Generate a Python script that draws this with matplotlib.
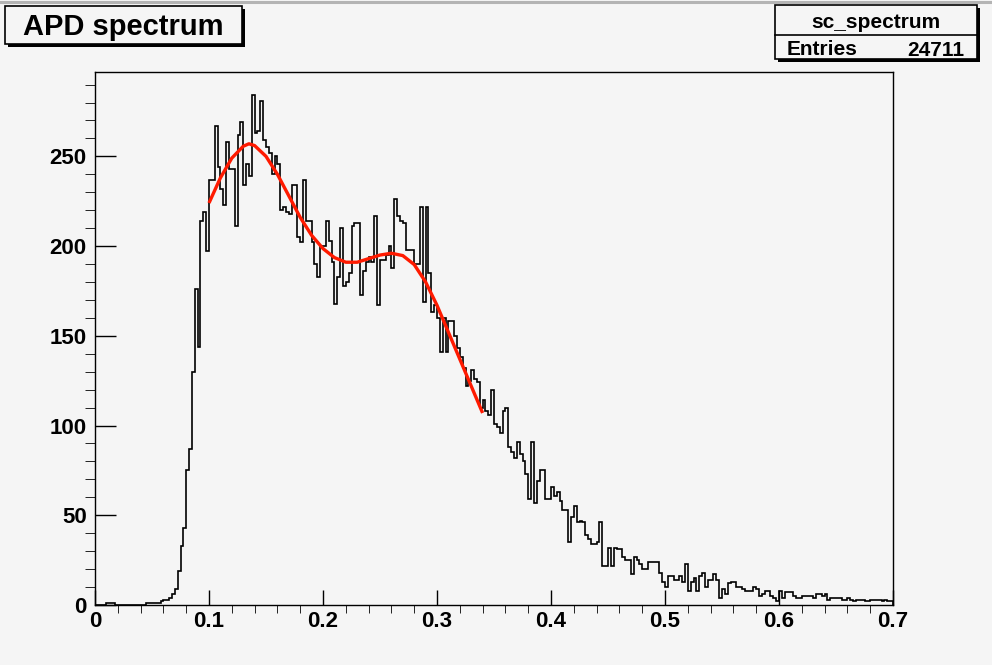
import numpy as np
import matplotlib
matplotlib.use('Agg')
import matplotlib.pyplot as plt
from matplotlib.patches import Rectangle
from matplotlib.ticker import MultipleLocator, FuncFormatter

# histogram: 280 bins from 0 to 0.7
x_lo, x_hi = 0.0, 0.7
counts = [
    0, 0, 0, 0, 1, 1, 1, 0, 0, 0, 0, 0, 0, 0, 0, 0, 0, 0, 1, 1, 1, 1, 1, 2,
    3, 3, 4, 6, 9, 19, 33, 43, 75, 87, 130,
    176, 144, 214, 219, 197, 237, 237, 267, 244, 232, 223, 258, 243, 243, 211,
    262, 269, 234, 246, 239, 284, 263, 264, 281, 259, 255, 252, 240, 250, 246, 220,
    222, 219, 218, 234, 234, 205, 202, 237, 214, 214, 202, 190, 183, 200, 200,
    214, 203, 191, 168, 183, 210, 178, 180, 185, 211, 213, 213, 173, 186, 191,
    194, 191, 217, 167, 192, 192, 195, 200,
    188, 226, 217, 214, 213, 198, 198, 198, 190, 190, 222, 169, 222, 185, 163,
    167, 160, 141, 160, 141, 158,
    158, 150, 143, 138, 132, 122, 125, 131, 126, 124, 110, 114, 108, 106, 120,
    101, 99, 96, 108, 110, 88, 85, 82, 91, 84, 80, 73, 59, 91, 57, 69, 75, 75,
    59, 59, 66, 61, 63, 58, 53, 53, 35, 49, 55, 46, 47, 46, 39, 37,
    34, 34, 35, 46, 22, 22, 32, 22, 32, 31, 31, 27, 25, 25, 17, 27, 25, 23, 20,
    20, 24, 24, 24, 24, 18, 13, 10, 16, 16, 14, 14, 16, 13, 23, 8, 13, 15, 8,
    16, 18, 10, 14, 14, 17, 14, 4, 9, 6, 12, 13, 13, 10,
    10, 9, 8, 8, 8, 10, 9, 5, 6, 8, 8, 5, 4, 2, 8, 4, 7, 7, 7, 5,
    4, 4, 5, 5, 5, 5, 4, 6, 6, 5, 6, 3, 4, 4, 4, 4, 3, 3, 4, 3,
    2, 3, 3, 3, 2, 2, 3, 3, 3, 3, 2, 3, 2, 2,
]

# fitted curve
fit_x = [0.100, 0.110, 0.120, 0.130, 0.135, 0.140, 0.150, 0.160, 0.170, 0.180,
         0.190, 0.200, 0.210, 0.220, 0.230, 0.240, 0.250, 0.260, 0.270, 0.280,
         0.290, 0.300, 0.310, 0.320, 0.330, 0.340]
fit_y = [224, 238, 249, 255.6, 257, 256, 250, 240, 228, 216,
         206, 198.6, 193.6, 191, 191, 193, 195, 196, 194.7, 189.7,
         180, 167, 152, 137, 122, 107]

title = 'APD spectrum'
hist_name = 'sc_spectrum'
entries = 24711

W, H = 992, 665
BG = '#f5f5f5'

plt.rcParams['font.family'] = ['Liberation Sans', 'DejaVu Sans']
plt.rcParams['font.weight'] = 'bold'

fig = plt.figure(figsize=(W / 100, H / 100), dpi=100, facecolor=BG)
ax = fig.add_axes([95 / W, 1 - 605 / H, (893 - 95) / W, (605 - 72) / H])
ax.set_facecolor(BG)

edges = np.linspace(x_lo, x_hi, len(counts) + 1)
ax.stairs(counts, edges, color='black', lw=1.2, baseline=0)
ax.plot(fit_x, fit_y, color='#ff1a00', lw=2.4, solid_capstyle='butt')

ax.set_xlim(x_lo, x_hi)
ax.set_ylim(0, 297)
ax.xaxis.set_major_locator(MultipleLocator(0.1))
ax.xaxis.set_minor_locator(MultipleLocator(0.02))
ax.yaxis.set_major_locator(MultipleLocator(50))
ax.yaxis.set_minor_locator(MultipleLocator(10))
ax.xaxis.set_major_formatter(FuncFormatter(lambda v, _: f'{v:g}'))
ax.tick_params(direction='in', top=False, right=False, labelsize=16, width=1)
ax.tick_params(axis='x', which='major', length=10.5, pad=4)
ax.tick_params(axis='x', which='minor', length=5.5)
ax.tick_params(axis='y', which='major', length=15, pad=6)
ax.tick_params(axis='y', which='minor', length=7.5)
for sp in ax.spines.values():
    sp.set_linewidth(1.0)

# overlay in pixel coordinates for the boxes
ov = fig.add_axes([0, 0, 1, 1])
ov.set_xlim(0, W)
ov.set_ylim(H, 0)
ov.axis('off')

ov.plot([0, W], [1.5, 1.5], color='#b4b4b4', lw=2.2)


def box(l, t, r, b):
    ov.add_patch(Rectangle((l + 3, t + 3), r - l, b - t, facecolor='black',
                           edgecolor='none'))
    ov.add_patch(Rectangle((l, t), r - l, b - t, facecolor=BG,
                           edgecolor='black', lw=1.2))


box(5, 6, 242, 44)
ov.text(123, 35, title, fontsize=21, ha='center', va='baseline')

box(775, 5, 977, 59)
ov.plot([775, 977], [35, 35], color='black', lw=1.2)
ov.text(876, 28, hist_name, fontsize=15, ha='center', va='baseline')
ov.text(787, 55, 'Entries', fontsize=15, ha='left', va='baseline')
ov.text(964, 56, str(entries), fontsize=15, ha='right', va='baseline')

fig.savefig('out.png', dpi=100, facecolor=BG)
